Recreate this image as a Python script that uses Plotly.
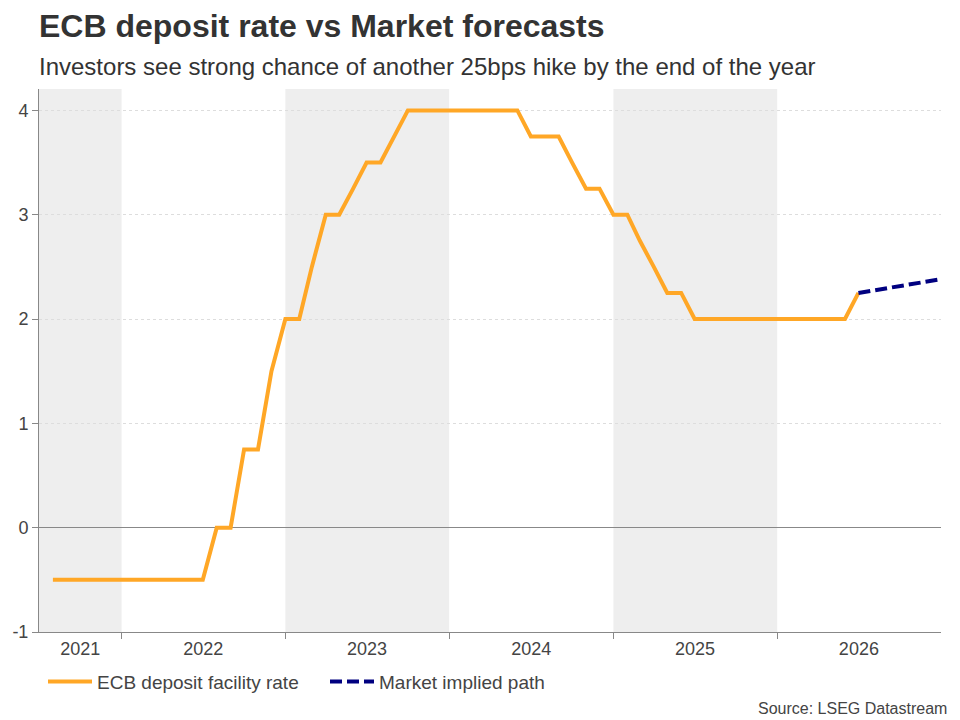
import plotly.graph_objects as go

# ---------------- data ----------------
rate_dates = [
    "2021-08-01", "2021-09-01", "2021-10-01", "2021-11-01", "2021-12-01",
    "2022-01-01", "2022-02-01", "2022-03-01", "2022-04-01", "2022-05-01", "2022-06-01",
    "2022-07-01", "2022-08-01", "2022-09-01", "2022-10-01", "2022-11-01", "2022-12-01",
    "2023-01-01", "2023-02-01", "2023-03-01", "2023-04-01", "2023-05-01", "2023-06-01",
    "2023-07-01", "2023-08-01", "2023-09-01", "2023-10-01", "2023-11-01", "2023-12-01",
    "2024-01-01", "2024-02-01", "2024-03-01", "2024-04-01", "2024-05-01", "2024-06-01",
    "2024-07-01", "2024-08-01", "2024-09-01", "2024-10-01", "2024-11-01", "2024-12-01",
    "2025-01-01", "2025-02-01", "2025-03-01", "2025-04-01", "2025-05-01", "2025-06-01",
    "2025-07-01", "2025-08-01", "2025-09-01", "2025-10-01", "2025-11-01", "2025-12-01",
    "2026-01-01", "2026-02-01", "2026-03-01", "2026-04-01", "2026-05-01", "2026-06-01",
    "2026-07-01",
]
rate_values = [
    -0.5, -0.5, -0.5, -0.5, -0.5,
    -0.5, -0.5, -0.5, -0.5, -0.5, -0.5,
    -0.5, 0.0, 0.0, 0.75, 0.75, 1.5,
    2.0, 2.0, 2.5, 3.0, 3.0, 3.25,
    3.5, 3.5, 3.75, 4.0, 4.0, 4.0,
    4.0, 4.0, 4.0, 4.0, 4.0, 4.0,
    3.75, 3.75, 3.75, 3.5, 3.25, 3.25,
    3.0, 3.0, 2.75, 2.5, 2.25, 2.25,
    2.0, 2.0, 2.0, 2.0, 2.0, 2.0,
    2.0, 2.0, 2.0, 2.0, 2.0, 2.0,
    2.25,
]

market_dates = ["2026-07-01", "2026-12-30"]
market_values = [2.25, 2.38]

year_labels = ["2021", "2022", "2023", "2024", "2025", "2026"]
year_label_dates = ["2021-10-01", "2022-07-02", "2023-07-02", "2024-07-02", "2025-07-02", "2026-07-02"]
year_boundaries = ["2022-01-01", "2023-01-01", "2024-01-01", "2025-01-01", "2026-01-01"]
shaded_periods = [("2021-07-01", "2022-01-01"), ("2023-01-01", "2024-01-01"), ("2025-01-01", "2026-01-01")]

x_range = ["2021-07-01", "2027-01-01"]
y_range = [-1, 4.205]
y_ticks = [-1, 0, 1, 2, 3, 4]
y_tick_text = ["-1", "0", "1", "2", "3", "4"]

title = "ECB deposit rate vs Market forecasts"
subtitle = "Investors see strong chance of another 25bps hike by the end of the year"
source = "Source: LSEG Datastream"

# ---------------- figure ----------------
FONT = "Liberation Sans, Arial, sans-serif"
ORANGE = "#FFA726"
NAVY = "#000080"

fig = go.Figure()
fig.add_trace(go.Scatter(
    x=rate_dates, y=rate_values, mode="lines", name="ECB deposit facility rate",
    line=dict(color=ORANGE, width=4),
))
fig.add_trace(go.Scatter(
    x=market_dates, y=market_values, mode="lines", name="Market implied path",
    line=dict(color=NAVY, width=4, dash="12px,5px"),
))

for x0, x1 in shaded_periods:
    fig.add_shape(type="rect", xref="x", yref="paper", x0=x0, x1=x1, y0=0, y1=1,
                  fillcolor="#EEEEEE", line=dict(width=0), layer="below")

plot_top, plot_bottom = 89, 632.3
ph = plot_bottom - plot_top
pw = 960 - 39 - 19

def py(Y):
    return (plot_bottom - Y) / ph

fig.update_layout(
    width=960, height=720,
    margin=dict(l=39, r=19, t=plot_top, b=720 - plot_bottom, pad=0, autoexpand=False),
    paper_bgcolor="white", plot_bgcolor="white",
    font=dict(family=FONT, size=18, color="#444444"),
    showlegend=True,
    legend=dict(orientation="h", x=4 / pw, xanchor="left", y=py(682), yanchor="middle",
                font=dict(size=19, color="#444444"), itemwidth=44,
                entrywidth=223, entrywidthmode="pixels",
                bgcolor="rgba(0,0,0,0)", traceorder="normal"),
    xaxis=dict(
        type="date", range=x_range, showgrid=False, zeroline=False, automargin=False,
        showline=True, linecolor="#888888", linewidth=1,
        tickmode="array", tickvals=year_label_dates, ticktext=year_labels,
        ticks="", tickfont=dict(size=18, color="#444444"),
        minor=dict(tickmode="array", tickvals=year_boundaries, ticks="outside",
                   ticklen=6, tickcolor="#888888", tickwidth=1, showgrid=False),
        fixedrange=True,
    ),
    yaxis=dict(
        range=y_range, tickmode="array", tickvals=y_ticks, ticktext=y_tick_text,
        automargin=False,
        ticks="outside", ticklen=6, tickcolor="#888888",
        showline=True, linecolor="#888888", linewidth=1,
        showgrid=True, gridcolor="#DDDDDD", griddash="dot", gridwidth=1,
        zeroline=True, zerolinecolor="#888888", zerolinewidth=1,
        tickfont=dict(size=18, color="#444444"),
        fixedrange=True,
    ),
    annotations=[
        dict(text="<b>" + title + "</b>", xref="paper", yref="paper", x=0, y=py(26),
             xanchor="left", yanchor="middle", showarrow=False,
             font=dict(size=32, color="#333333", family=FONT), xshift=-2),
        dict(text=subtitle, xref="paper", yref="paper", x=0, y=py(66),
             xanchor="left", yanchor="middle", showarrow=False,
             font=dict(size=24, color="#333333", family=FONT), xshift=-2),
        dict(text=source, xref="paper", yref="paper", x=1, y=py(709),
             xanchor="right", yanchor="middle", showarrow=False,
             font=dict(size=16, color="#444444", family=FONT), xshift=8),
    ],
)

fig.write_html("out.html")
